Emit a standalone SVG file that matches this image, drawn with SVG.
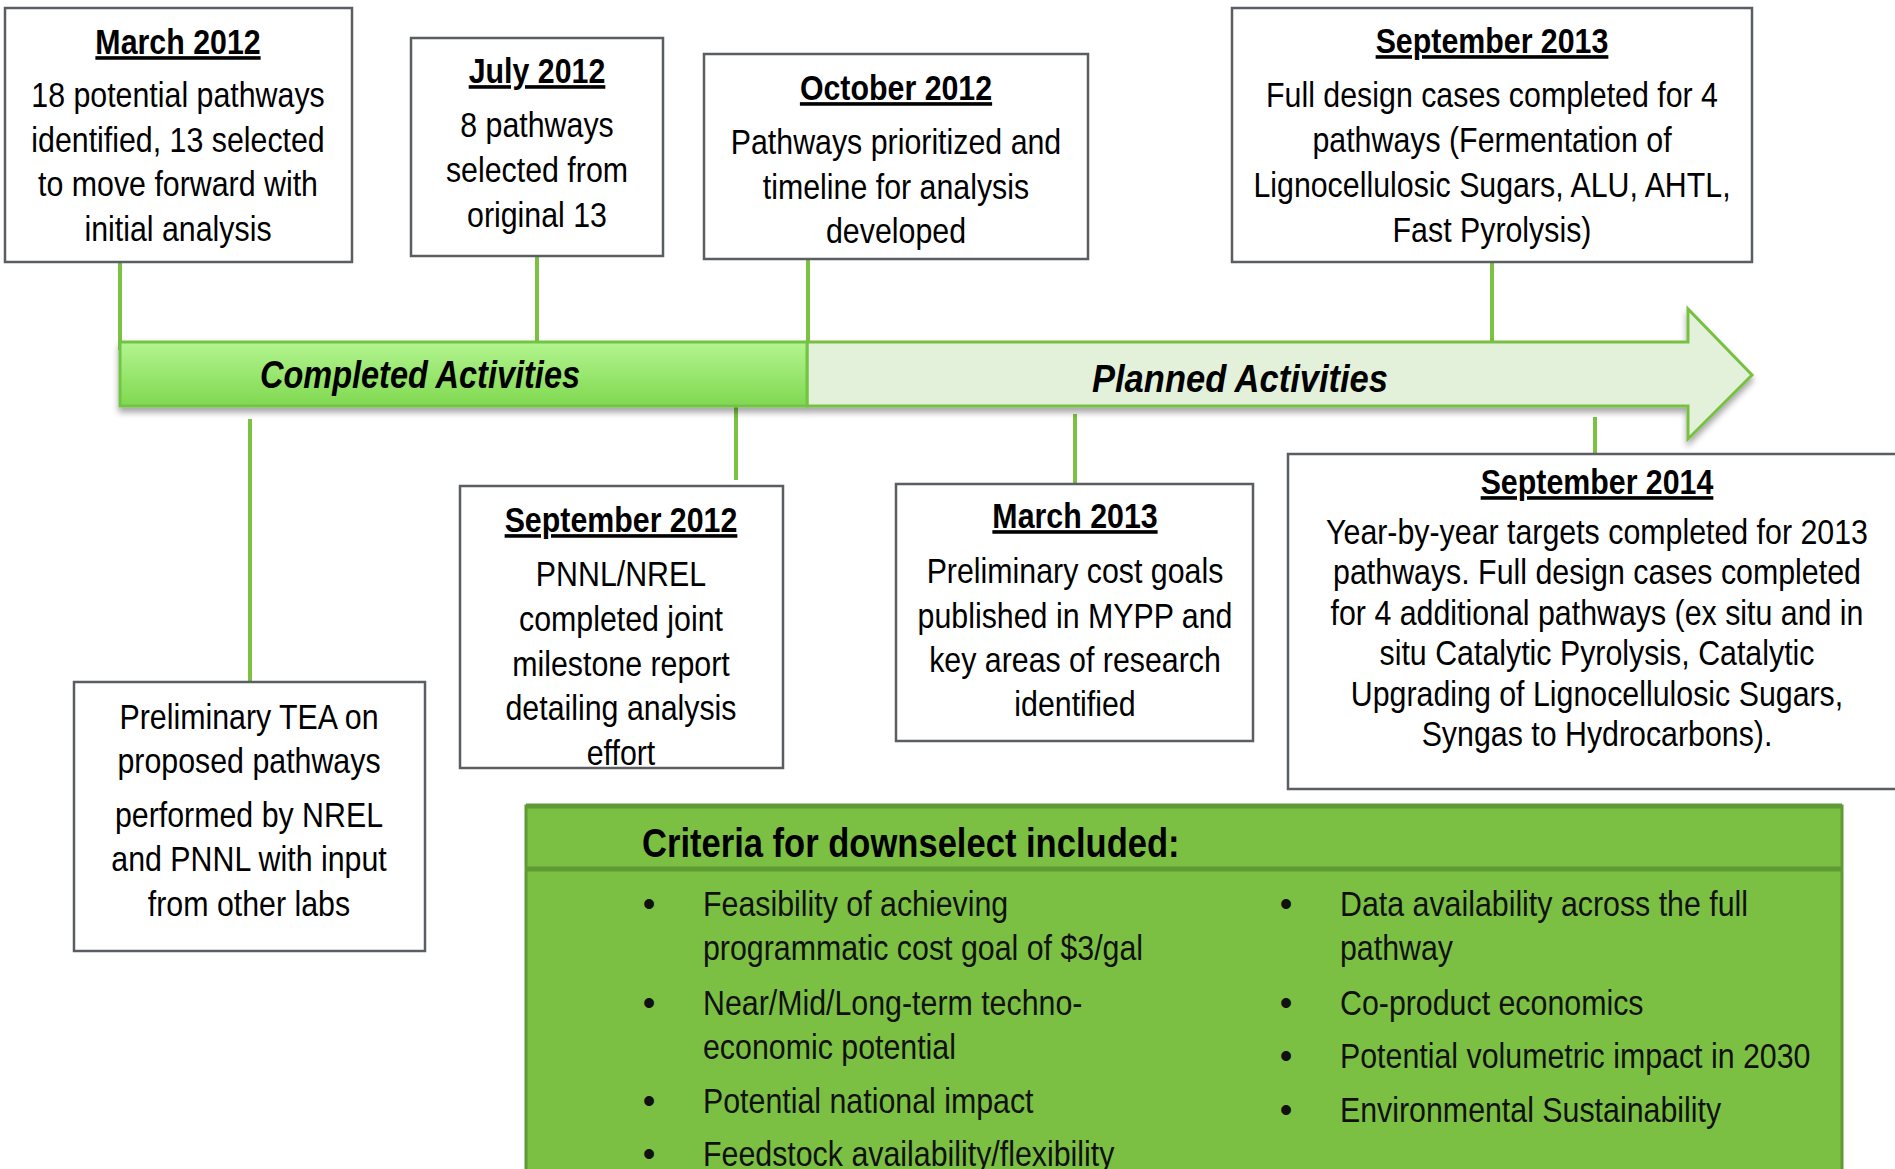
<svg xmlns="http://www.w3.org/2000/svg" width="1895" height="1169" viewBox="0 0 1895 1169">
  <defs>
    <style>
      .t { font-family: "Liberation Sans", Arial, Helvetica, sans-serif; font-size: 36px; fill: #000; text-anchor: middle; }
      .h { font-weight: bold; text-decoration: underline; }
      .crit { font-family: "Liberation Sans", Arial, Helvetica, sans-serif; font-size: 36px; fill: #111; }
      .crit-head { font-family: "Liberation Sans", Arial, Helvetica, sans-serif; font-size: 41px; font-weight: bold; fill: #000; }
      .bar { font-family: "Liberation Sans", Arial, Helvetica, sans-serif; font-size: 38px; font-weight: bold; font-style: italic; fill: #000; text-anchor: middle; }
      .box { fill: #fff; stroke: #5a5e62; stroke-width: 2.5; }
      .link { stroke: #7cc142; stroke-width: 4; fill: none; }
    </style>
    <linearGradient id="doneFill" x1="0" y1="0" x2="0" y2="1">
      <stop offset="0" stop-color="#b3f590"/>
      <stop offset="1" stop-color="#80d850"/>
    </linearGradient>
    <filter id="shadow" x="-5%" y="-20%" width="110%" height="150%">
      <feDropShadow dx="0" dy="5" stdDeviation="3" flood-color="#000" flood-opacity="0.35"/>
    </filter>
  </defs>

  <rect width="1895" height="1169" fill="#fff"/>

  <!-- connectors from milestones to the timeline -->
  <g id="connectors">
    <line class="link" x1="120" y1="262" x2="120" y2="350"/>
    <line class="link" x1="537" y1="256" x2="537" y2="342"/>
    <line class="link" x1="808" y1="259" x2="808" y2="342"/>
    <line class="link" x1="1492" y1="262" x2="1492" y2="342"/>
    <line class="link" x1="250" y1="419" x2="250" y2="681"/>
    <line class="link" x1="736" y1="407" x2="736" y2="480"/>
    <line class="link" x1="1075" y1="414" x2="1075" y2="483"/>
    <line class="link" x1="1595" y1="417" x2="1595" y2="454"/>
  </g>

  <!-- timeline arrow -->
  <g id="timeline" filter="url(#shadow)">
    <polygon points="807,342 1688,342 1688,309 1752,375 1688,439 1688,406 807,406" fill="#e3f1db" stroke="#78c043" stroke-width="3" stroke-linejoin="miter"/>
    <rect x="120" y="342" width="687" height="64" fill="url(#doneFill)" stroke="#72c444" stroke-width="3"/>
  </g>
  <g id="timeline-labels">
    <text class="bar" x="420" y="388" textLength="320" lengthAdjust="spacingAndGlyphs">Completed Activities</text>
    <text class="bar" x="1240" y="392" textLength="296" lengthAdjust="spacingAndGlyphs">Planned Activities</text>
  </g>

  <!-- milestone: March 2012 -->
  <g id="m-2012-03">
    <rect class="box" x="5" y="8" width="347" height="254"/>
    <g transform="translate(178 0) scale(0.843 1)">
      <text class="t h" x="0" y="54">March 2012</text>
      <text class="t" x="0" y="107">18 potential pathways</text>
      <text class="t" x="0" y="152">identified, 13 selected</text>
      <text class="t" x="0" y="196">to move forward with</text>
      <text class="t" x="0" y="241">initial analysis</text>
    </g>
  </g>

  <!-- milestone: July 2012 -->
  <g id="m-2012-07">
    <rect class="box" x="411" y="38" width="252" height="218"/>
    <g transform="translate(537 0) scale(0.843 1)">
      <text class="t h" x="0" y="83">July 2012</text>
      <text class="t" x="0" y="137">8 pathways</text>
      <text class="t" x="0" y="182">selected from</text>
      <text class="t" x="0" y="227">original 13</text>
    </g>
  </g>

  <!-- milestone: October 2012 -->
  <g id="m-2012-10">
    <rect class="box" x="704" y="54" width="384" height="205"/>
    <g transform="translate(896 0) scale(0.843 1)">
      <text class="t h" x="0" y="100">October 2012</text>
      <text class="t" x="0" y="154">Pathways prioritized and</text>
      <text class="t" x="0" y="199">timeline for analysis</text>
      <text class="t" x="0" y="243">developed</text>
    </g>
  </g>

  <!-- milestone: September 2013 -->
  <g id="m-2013-09">
    <rect class="box" x="1232" y="8" width="520" height="254"/>
    <g transform="translate(1492 0) scale(0.843 1)">
      <text class="t h" x="0" y="53">September 2013</text>
      <text class="t" x="0" y="107">Full design cases completed for 4</text>
      <text class="t" x="0" y="152">pathways (Fermentation of</text>
      <text class="t" x="0" y="197">Lignocellulosic Sugars, ALU, AHTL,</text>
      <text class="t" x="0" y="242">Fast Pyrolysis)</text>
    </g>
  </g>

  <!-- preliminary TEA note -->
  <g id="n-tea">
    <rect class="box" x="74" y="682" width="351" height="269"/>
    <g transform="translate(249 0) scale(0.843 1)">
      <text class="t" x="0" y="729">Preliminary TEA on</text>
      <text class="t" x="0" y="773">proposed pathways</text>
      <text class="t" x="0" y="827">performed by NREL</text>
      <text class="t" x="0" y="871">and PNNL with input</text>
      <text class="t" x="0" y="916">from other labs</text>
    </g>
  </g>

  <!-- milestone: September 2012 -->
  <g id="m-2012-09">
    <rect class="box" x="460" y="486" width="323" height="282"/>
    <g transform="translate(621 0) scale(0.843 1)">
      <text class="t h" x="0" y="532">September 2012</text>
      <text class="t" x="0" y="586">PNNL/NREL</text>
      <text class="t" x="0" y="631">completed joint</text>
      <text class="t" x="0" y="676">milestone report</text>
      <text class="t" x="0" y="720">detailing analysis</text>
      <text class="t" x="0" y="765">effort</text>
    </g>
  </g>

  <!-- milestone: March 2013 -->
  <g id="m-2013-03">
    <rect class="box" x="896" y="484" width="357" height="257"/>
    <g transform="translate(1075 0) scale(0.843 1)">
      <text class="t h" x="0" y="528">March 2013</text>
      <text class="t" x="0" y="583">Preliminary cost goals</text>
      <text class="t" x="0" y="628">published in MYPP and</text>
      <text class="t" x="0" y="672">key areas of research</text>
      <text class="t" x="0" y="716">identified</text>
    </g>
  </g>

  <!-- milestone: September 2014 -->
  <g id="m-2014-09">
    <rect class="box" x="1288" y="454" width="620" height="335"/>
    <g transform="translate(1597 0) scale(0.843 1)">
      <text class="t h" x="0" y="494">September 2014</text>
      <text class="t" x="0" y="544">Year-by-year targets completed for 2013</text>
      <text class="t" x="0" y="584">pathways. Full design cases completed</text>
      <text class="t" x="0" y="625">for 4 additional pathways (ex situ and in</text>
      <text class="t" x="0" y="665">situ Catalytic Pyrolysis, Catalytic</text>
      <text class="t" x="0" y="706">Upgrading of Lignocellulosic Sugars,</text>
      <text class="t" x="0" y="746">Syngas to Hydrocarbons).</text>
    </g>
  </g>

  <!-- downselect criteria panel -->
  <g id="criteria">
    <rect x="526" y="806" width="1316" height="420" fill="#7bc043" stroke="#5f9a35" stroke-width="3"/>
    <line x1="526" y1="806" x2="1842" y2="806" stroke="#5f9a35" stroke-width="5"/>
    <line x1="526" y1="869" x2="1842" y2="869" stroke="#5f9a35" stroke-width="5"/>
    <g transform="translate(642 0) scale(0.843 1)">
      <text class="crit-head" x="0" y="857">Criteria for downselect included:</text>
    </g>
    <g class="crit" text-anchor="middle">
      <text x="649" y="916">•</text>
      <text x="649" y="1015">•</text>
      <text x="649" y="1113">•</text>
      <text x="649" y="1166">•</text>
      <text x="1286" y="916">•</text>
      <text x="1286" y="1015">•</text>
      <text x="1286" y="1068">•</text>
      <text x="1286" y="1122">•</text>
    </g>
    <g transform="translate(703 0) scale(0.843 1)">
      <text class="crit" x="0" y="916">Feasibility of achieving</text>
      <text class="crit" x="0" y="960">programmatic cost goal of $3/gal</text>
      <text class="crit" x="0" y="1015">Near/Mid/Long-term techno-</text>
      <text class="crit" x="0" y="1059">economic potential</text>
      <text class="crit" x="0" y="1113">Potential national impact</text>
      <text class="crit" x="0" y="1166">Feedstock availability/flexibility</text>
    </g>
    <g transform="translate(1340 0) scale(0.843 1)">
      <text class="crit" x="0" y="916">Data availability across the full</text>
      <text class="crit" x="0" y="960">pathway</text>
      <text class="crit" x="0" y="1015">Co-product economics</text>
      <text class="crit" x="0" y="1068">Potential volumetric impact in 2030</text>
      <text class="crit" x="0" y="1122">Environmental Sustainability</text>
    </g>
  </g>
</svg>
